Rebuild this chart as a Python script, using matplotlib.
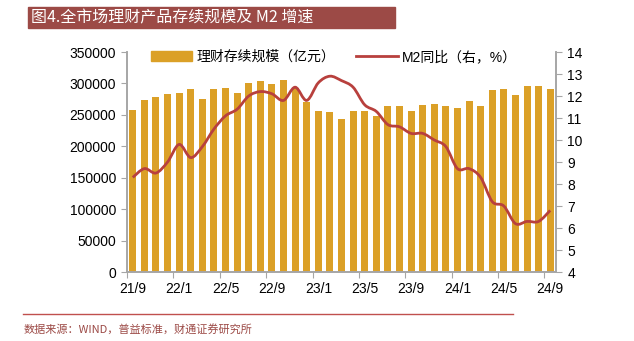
import numpy as np
import matplotlib
matplotlib.use("Agg")
import matplotlib.pyplot as plt
from matplotlib.path import Path
from matplotlib.patches import PathPatch, Rectangle
from matplotlib.lines import Line2D

plt.rcParams['font.family'] = ['Liberation Sans', 'Noto Sans CJK SC', 'DejaVu Sans']

# monthly data 2021/9 - 2024/9
months = ["21/9", "21/10", "21/11", "21/12", "22/1", "22/2", "22/3", "22/4", "22/5", "22/6",
          "22/7", "22/8", "22/9", "22/10", "22/11", "22/12", "23/1", "23/2", "23/3", "23/4",
          "23/5", "23/6", "23/7", "23/8", "23/9", "23/10", "23/11", "23/12", "24/1", "24/2",
          "24/3", "24/4", "24/5", "24/6", "24/7", "24/8", "24/9"]
wealth = [257000, 273500, 279000, 283000, 285000, 290500, 275000, 290500, 292500, 285000,
          300500, 303500, 298500, 306000, 292000, 270000, 256000, 254000, 243000, 256000,
          256000, 248000, 263500, 263500, 256000, 265500, 267500, 263500, 261500, 271500,
          263500, 289000, 290500, 281000, 296500, 296500, 290500]
m2 = [8.3, 8.7, 8.5, 9.0, 9.8, 9.2, 9.7, 10.5, 11.1, 11.4,
      12.0, 12.2, 12.1, 11.8, 12.4, 11.8, 12.6, 12.9, 12.7, 12.4,
      11.6, 11.3, 10.7, 10.6, 10.3, 10.3, 10.0, 9.7, 8.7, 8.7,
      8.3, 7.2, 7.0, 6.2, 6.3, 6.3, 6.8]
tick_labels = months[::4]

bar_color = "#DBA027"
line_color = "#B8403D"
spine_color = "#A6A6A6"

fig = plt.figure(figsize=(6.34, 3.41), dpi=100)
ax = fig.add_axes([0.2003, 0.2023, 0.6767, 0.6452])
ax2 = ax.twinx()

x = np.arange(len(months))
ax.bar(x, wealth, width=0.6, color=bar_color, zorder=2)
ax.set_xlim(-0.5, len(months) - 0.5)
ax.set_ylim(0, 350000)
ax.set_yticks(range(0, 350001, 50000))
ax2.set_ylim(4, 14)
ax2.set_yticks(range(4, 15))

# smooth M2 curve: cubic bezier through the data points
pts = np.column_stack([x, m2]).astype(float)
verts = [tuple(pts[0])]
codes = [Path.MOVETO]
for i in range(len(pts) - 1):
    p0 = pts[i - 1] if i > 0 else pts[i]
    p1, p2 = pts[i], pts[i + 1]
    p3 = pts[i + 2] if i + 2 < len(pts) else pts[i + 1]
    c1 = p1 + (p2 - p0) / 6
    c2 = p2 - (p3 - p1) / 6
    verts += [tuple(c1), tuple(c2), tuple(p2)]
    codes += [Path.CURVE4] * 3
ax2.add_patch(PathPatch(Path(verts, codes), fill=False, edgecolor=line_color, lw=2, zorder=3))

# x ticks: marks at month boundaries, labels at bar centers
ax.set_xticks(np.arange(len(months))[::4] - 0.5)
ax.set_xticklabels([])
ax.set_xticks(np.arange(len(months))[::4], minor=True)
ax.set_xticklabels(tick_labels, minor=True)
ax.tick_params(axis='x', which='minor', length=0, pad=7, labelsize=10)
ax.tick_params(axis='x', which='major', length=4, color=spine_color, direction='out')
ax.tick_params(axis='y', length=4, color=spine_color, labelsize=10, pad=4)
ax2.tick_params(axis='y', length=4, color=spine_color, labelsize=10, pad=4)

for a in (ax, ax2):
    a.spines['top'].set_visible(False)
    for s in ('left', 'right', 'bottom'):
        a.spines[s].set_color(spine_color)
        a.spines[s].set_linewidth(1.2)

handles = [Rectangle((0, 0), 1, 1, color=bar_color),
           Line2D([0], [0], color=line_color, lw=2)]
fig.legend(handles, ["理财存续规模（亿元）", "M2同比（右，%）"], loc='upper left',
           bbox_to_anchor=(0.218, 0.89), ncol=2, frameon=False, fontsize=10,
           handlelength=3.0, handleheight=0.7, columnspacing=1.5, handletextpad=0.3)

# title bar
fig.patches.append(Rectangle((28 / 634, 1 - 28 / 341), 367 / 634, 21 / 341,
                             transform=fig.transFigure, color="#9C4A46", zorder=0))
fig.text(31 / 634, 1 - 17.5 / 341, "图4.全市场理财产品存续规模及 M2 增速", color="white",
         fontsize=11.5, va='center', ha='left', family=['Noto Sans CJK SC'])

# source
fig.add_artist(Line2D([23 / 634, 513 / 634], [1 - 314 / 341, 1 - 314 / 341],
                      transform=fig.transFigure, color="#C0504D", lw=1))
fig.text(24 / 634, 1 - 329 / 341, "数据来源：WIND，普益标准，财通证券研究所", color="#9C4A46",
         fontsize=8, va='center', ha='left', family=['Noto Sans CJK SC'])

fig.savefig("out.png", dpi=100)
